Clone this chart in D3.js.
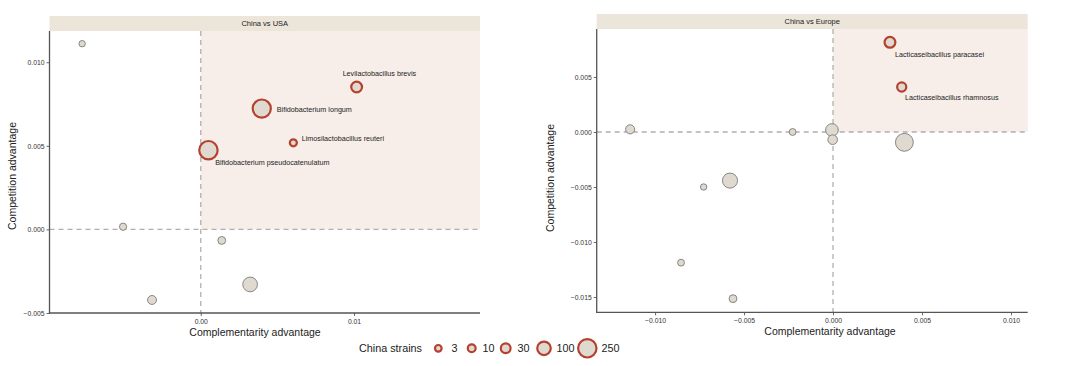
<!DOCTYPE html>
<html>
<head>
<meta charset="utf-8">
<script src="https://cdn.jsdelivr.net/npm/d3@7"></script>
<style>
  html, body { margin: 0; padding: 0; background: #ffffff; }
  svg { display: block; font-family: "Liberation Sans", Arial, sans-serif; }
</style>
</head>
<body>
<svg id="chart" width="1080" height="366"></svg>
<script>
// ---------------- DATA ----------------
const panelTitles = ["China vs USA", "China vs Europe"];

// China vs USA
const usaSpecies = ["", "", "", "", "", "Bifidobacterium pseudocatenulatum", "Bifidobacterium longum", "Limosilactobacillus reuteri", "Levilactobacillus brevis"];
const usaComplementarity = [-0.00774, -0.00507, -0.00318, 0.00137, 0.00322, 0.00050, 0.00398, 0.00604, 0.01017];
const usaCompetition     = [0.01111, 0.00016, -0.00422, -0.00066, -0.00329, 0.00474, 0.00723, 0.00518, 0.00852];
const usaStrains         = [2, 6, 20, 10, 130, 250, 240, 5, 45];

// China vs Europe
const eurSpecies = ["Lacticaseibacillus paracasei", "Lacticaseibacillus rhamnosus", "", "", "", "", "", "", "", "", ""];
const eurComplementarity = [0.00320, 0.00386, -0.01140, -0.00227, -0.00006, -0.00002, 0.00401, -0.00579, -0.00727, -0.00854, -0.00562];
const eurCompetition     = [0.00815, 0.00409, 0.00024, 0.00000, 0.00018, -0.00070, -0.00094, -0.00442, -0.00500, -0.01188, -0.01515];
const eurStrains         = [45, 22, 22, 4, 80, 28, 230, 140, 2, 4, 10];

// tick labels
const usaXTicks = [0.00, 0.01];
const usaYTicks = [-0.005, 0.000, 0.005, 0.010];
const eurXTicks = [-0.010, -0.005, 0.000, 0.005, 0.010];
const eurYTicks = [-0.015, -0.010, -0.005, 0.000, 0.005];

// legend
const legendBreaks = [3, 10, 30, 100, 250];
const legendTitle = "China strains";
const xTitle = "Complementarity advantage";
const yTitle = "Competition advantage";

// ---------------- LAYOUT / STYLE ----------------
const C = {
  fill: "#e0d9d0",
  stroke: "#7a7a7a",
  hiStroke: "#b5412f",
  strip: "#ece5da",
  quad: "#f7eee9",
  axis: "#555555",
  dash: "#b0b0b0",
  text: "#222222",
  tick: "#333333"
};

const rScale = d3.scaleSqrt().domain([0, 250]).range([2.6, 9.2]);

const svg = d3.select("#chart");

const panels = [
  {
    title: panelTitles[0],
    species: usaSpecies, xs: usaComplementarity, ys: usaCompetition, ns: usaStrains,
    xDomain: [-0.00987, 0.01822], yDomain: [-0.005, 0.01187],
    left: 49.5, right: 480, top: 31, bottom: 313, stripTop: 16,
    xTicks: usaXTicks, yTicks: usaYTicks, xFmt: ".2f", yFmt: ".3f",
    xTitleX: 255, yTitleX: 12, yTitleY: 176,
    labelOffsets: {
      "Levilactobacillus brevis": [-14, -11],
      "Bifidobacterium longum": [15, 3.5],
      "Limosilactobacillus reuteri": [8.4, -2],
      "Bifidobacterium pseudocatenulatum": [6.7, 15]
    }
  },
  {
    title: panelTitles[1],
    species: eurSpecies, xs: eurComplementarity, ys: eurCompetition, ns: eurStrains,
    xDomain: [-0.01328, 0.01094], yDomain: [-0.01639, 0.00936],
    left: 596.7, right: 1027.7, top: 29, bottom: 312.3, stripTop: 14,
    xTicks: eurXTicks, yTicks: eurYTicks, xFmt: ".3f", yFmt: ".3f",
    xTitleX: 830, yTitleX: 550, yTitleY: 178,
    labelOffsets: {
      "Lacticaseibacillus paracasei": [5, 14.5],
      "Lacticaseibacillus rhamnosus": [3.3, 13]
    }
  }
];

function fmt(spec, v) {
  const s = d3.format(spec)(v);
  return s.replace("-", "\u2212");
}

panels.forEach(p => {
  const x = d3.scaleLinear().domain(p.xDomain).range([p.left, p.right]);
  const y = d3.scaleLinear().domain(p.yDomain).range([p.bottom, p.top]);
  const g = svg.append("g");

  // strip
  g.append("rect")
    .attr("x", p.left).attr("y", p.stripTop)
    .attr("width", p.right - p.left).attr("height", p.top - p.stripTop)
    .attr("fill", C.strip);
  g.append("text")
    .attr("x", (p.left + p.right) / 2).attr("y", (p.stripTop + p.top) / 2 + 2.6)
    .attr("text-anchor", "middle").attr("font-size", 7.5).attr("fill", C.text)
    .text(p.title);

  // highlighted quadrant (x>0, y>0)
  g.append("rect")
    .attr("x", x(0)).attr("y", p.top)
    .attr("width", p.right - x(0)).attr("height", y(0) - p.top)
    .attr("fill", C.quad);

  // dashed reference lines
  g.append("line")
    .attr("x1", p.left).attr("x2", p.right).attr("y1", y(0)).attr("y2", y(0))
    .attr("stroke", C.dash).attr("stroke-width", 1.3).attr("stroke-dasharray", "5,4");
  g.append("line")
    .attr("x1", x(0)).attr("x2", x(0)).attr("y1", p.top).attr("y2", p.bottom)
    .attr("stroke", C.dash).attr("stroke-width", 1.3).attr("stroke-dasharray", "5,4");

  // axes
  const xAxis = d3.axisBottom(x).tickValues(p.xTicks).tickSize(3).tickPadding(3)
    .tickFormat(v => fmt(p.xFmt, v));
  const yAxis = d3.axisLeft(y).tickValues(p.yTicks).tickSize(3).tickPadding(2)
    .tickFormat(v => fmt(p.yFmt, v));

  const gx = g.append("g").attr("transform", `translate(0,${p.bottom})`).call(xAxis);
  const gy = g.append("g").attr("transform", `translate(${p.left},0)`).call(yAxis);
  [gx, gy].forEach(a => {
    a.select(".domain").remove();
    a.selectAll(".tick line").attr("stroke", C.axis).attr("stroke-width", 0.9);
    a.selectAll(".tick text").attr("font-size", 6.8).attr("fill", C.tick)
      .attr("font-family", "'Liberation Sans', Arial, sans-serif");
  });
  g.append("line").attr("x1", p.left).attr("x2", p.left).attr("y1", p.top).attr("y2", p.bottom + 0.6)
    .attr("stroke", C.axis).attr("stroke-width", 1.3);
  g.append("line").attr("x1", p.left - 0.6).attr("x2", p.right).attr("y1", p.bottom).attr("y2", p.bottom)
    .attr("stroke", C.axis).attr("stroke-width", 1.3);

  // axis titles
  g.append("text").attr("x", p.xTitleX).attr("y", p.bottom + 23)
    .attr("text-anchor", "middle").attr("font-size", 10.5).attr("fill", C.text).text(xTitle);
  g.append("text").attr("transform", `translate(${p.yTitleX + 3.5},${p.yTitleY}) rotate(-90)`)
    .attr("text-anchor", "middle").attr("font-size", 10.5).attr("fill", C.text).text(yTitle);

  // points
  const pts = p.xs.map((v, i) => ({ cx: v, cy: p.ys[i], n: p.ns[i], name: p.species[i] }));
  const hi = d => d.name !== "";
  const ordered = pts.slice().sort((a, b) => b.n - a.n);
  g.selectAll("circle.pt").data(ordered).join("circle")
    .attr("class", "pt")
    .attr("cx", d => x(d.cx)).attr("cy", d => y(d.cy))
    .attr("r", d => rScale(d.n))
    .attr("fill", C.fill)
    .attr("stroke", d => hi(d) ? C.hiStroke : C.stroke)
    .attr("stroke-width", d => hi(d) ? 2.2 : 0.9);

  // labels
  g.selectAll("text.lab").data(pts.filter(hi)).join("text")
    .attr("class", "lab")
    .attr("x", d => x(d.cx) + p.labelOffsets[d.name][0])
    .attr("y", d => y(d.cy) + p.labelOffsets[d.name][1])
    .attr("font-size", 7.2).attr("fill", C.text)
    .text(d => d.name);
});

// legend
const lg = svg.append("g");
lg.append("text").attr("x", 359).attr("y", 352).attr("font-size", 10.8).attr("fill", C.text).text(legendTitle);
const legX = [438.3, 471.7, 505.7, 544, 587.3];
const legLabelX = [451.5, 482.5, 517.5, 556.5, 601.5];
const lgItems = legendBreaks.map((v, i) => ({ v, cx: legX[i], tx: legLabelX[i] }));
lg.selectAll("circle").data(lgItems).join("circle")
  .attr("cx", d => d.cx).attr("cy", 348.3)
  .attr("r", d => rScale(d.v))
  .attr("fill", C.fill).attr("stroke", C.hiStroke).attr("stroke-width", 2.2);
lg.selectAll("text.lv").data(lgItems).join("text")
  .attr("class", "lv")
  .attr("x", d => d.tx).attr("y", 352)
  .attr("font-size", 10.8).attr("fill", C.text)
  .text(d => d.v);
</script>
</body>
</html>
